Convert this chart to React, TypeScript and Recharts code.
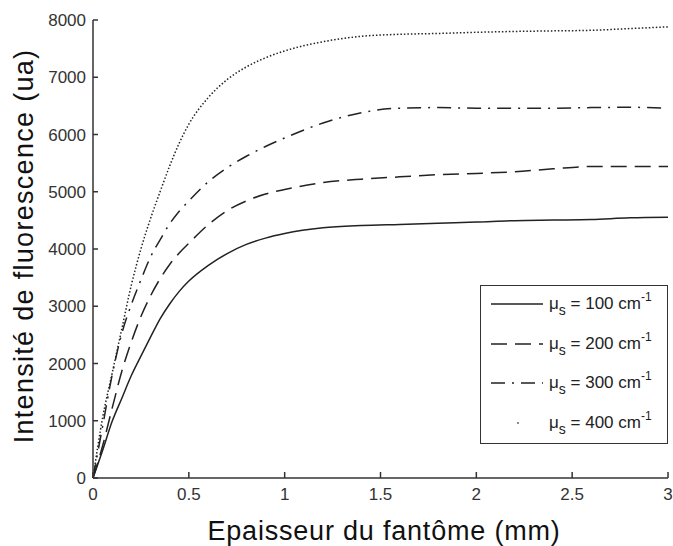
import React from "react";
import {
  LineChart,
  Line,
  XAxis,
  YAxis,
  Legend,
  Label,
} from "recharts";

// epaisseur (mm)
const thickness = [0, 0.05, 0.1, 0.15, 0.2, 0.25, 0.3, 0.35, 0.4, 0.45, 0.5, 0.6, 0.7, 0.8, 0.9, 1.0, 1.2, 1.4, 1.6, 1.8, 2.0, 2.2, 2.4, 2.6, 2.8, 3.0];

// intensité (ua) pour chaque mu_s
const mu100 = [0, 480, 990, 1390, 1790, 2130, 2460, 2780, 3040, 3260, 3440, 3710, 3920, 4080, 4190, 4270, 4370, 4410, 4430, 4450, 4470, 4495, 4505, 4515, 4545, 4555];
const mu200 = [0, 560, 1220, 1860, 2380, 2820, 3180, 3480, 3730, 3930, 4100, 4420, 4670, 4840, 4960, 5040, 5160, 5220, 5260, 5300, 5320, 5350, 5400, 5440, 5440, 5440];
const mu300 = [0, 900, 1800, 2520, 3030, 3460, 3860, 4160, 4440, 4660, 4840, 5170, 5420, 5620, 5790, 5940, 6200, 6380, 6460, 6470, 6460, 6460, 6460, 6470, 6475, 6460];
const mu400 = [0, 1050, 1830, 2600, 3370, 4000, 4530, 5000, 5450, 5850, 6180, 6640, 6960, 7180, 7340, 7460, 7620, 7715, 7750, 7765, 7785, 7800, 7810, 7820, 7850, 7880];

const xTicks = [0, 0.5, 1, 1.5, 2, 2.5, 3];
const yTicks = [0, 1000, 2000, 3000, 4000, 5000, 6000, 7000, 8000];

const series = [
  { key: "mu100", label: "100", dash: undefined as string | undefined },
  { key: "mu200", label: "200", dash: "16 8" },
  { key: "mu300", label: "300", dash: "14 7 2 7" },
  { key: "mu400", label: "400", dash: "1.5 2" },
];

const data = thickness.map((x, i) => ({
  x,
  mu100: mu100[i],
  mu200: mu200[i],
  mu300: mu300[i],
  mu400: mu400[i],
}));

const FONT = "'Liberation Sans', Arial, sans-serif";
const INK = "#222";

const renderLegend = () => (
  <div
    style={{
      position: "relative",
      width: 186,
      height: 157,
      border: "1.5px solid #333",
      background: "#fff",
      fontFamily: FONT,
      fontSize: 17,
      color: INK,
    }}
  >
    {series.map((s, i) => (
      <div
        key={s.key}
        style={{
          position: "absolute",
          left: 10,
          top: 18 + i * 39.7 - 11,
          height: 22,
          display: "flex",
          alignItems: "center",
          whiteSpace: "nowrap",
        }}
      >
        <svg width={52} height={4} style={{ marginRight: 6 }}>
          {s.key === "mu400" ? (
            <circle cx={27} cy={2} r={0.9} fill="#555" />
          ) : (
            <line x1={0} y1={2} x2={52} y2={2} stroke={INK} strokeWidth={1.5} strokeDasharray={s.dash} />
          )}
        </svg>
        <span>
          μ<sub style={{ fontSize: 14, verticalAlign: -6 }}>s</sub> = {s.label} cm
          <sup style={{ fontSize: 12, verticalAlign: 8 }}>-1</sup>
        </span>
      </div>
    ))}
  </div>
);

const App: React.FC = () => {
  return (
    <div style={{ position: "absolute", left: 0, top: 0, background: "#fff" }}>
      <LineChart
        width={673}
        height={546}
        data={data}
        margin={{ top: 20, right: 5, left: 0, bottom: 0 }}
        style={{ fontFamily: FONT }}
      >
        <XAxis
          type="number"
          dataKey="x"
          domain={[0, 3]}
          ticks={xTicks}
          interval={0}
          height={68}
          stroke="#333"
          strokeWidth={1.5}
          tickSize={-6}
          tickMargin={16}
          tick={{ fill: "#333", fontSize: 17 }}
        >
          <Label
            content={() => (
              <text x={384} y={540} textAnchor="middle" fontSize={27} letterSpacing={0.8} fill="#111" fontFamily={FONT}>
                Epaisseur du fantôme (mm)
              </text>
            )}
          />
        </XAxis>
        <YAxis
          type="number"
          domain={[0, 8000]}
          ticks={yTicks}
          interval={0}
          width={93}
          stroke="#333"
          strokeWidth={1.5}
          tickSize={-5}
          tickMargin={12}
          tick={{ fill: "#333", fontSize: 17 }}
        >
          <Label
            content={() => (
              <text
                x={33}
                y={246}
                transform="rotate(-90 33 246)"
                textAnchor="middle"
                fontSize={27}
                letterSpacing={1.3}
                fill="#111"
                fontFamily={FONT}
              >
                Intensité de fluorescence (ua)
              </text>
            )}
          />
        </YAxis>
        {series.map((s) => (
          <Line
            key={s.key}
            type="monotone"
            dataKey={s.key}
            stroke={INK}
            strokeWidth={1.5}
            strokeDasharray={s.dash}
            dot={false}
            activeDot={false}
            isAnimationActive={false}
          />
        ))}
        <Legend
          layout="vertical"
          align="center"
          verticalAlign="middle"
          wrapperStyle={{ left: 480, top: 285, width: 188, height: 159 }}
          content={renderLegend}
        />
      </LineChart>
    </div>
  );
};

export default App;
